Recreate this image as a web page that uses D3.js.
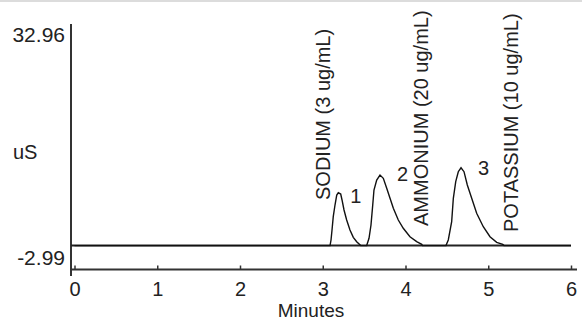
<!DOCTYPE html>
<html>
<head>
<meta charset="utf-8">
<script src="https://cdn.jsdelivr.net/npm/d3@7"></script>
<style>
  body { margin: 0; background: #fff; }
  svg { display: block; font-family: "Liberation Sans", Arial, sans-serif; }
</style>
</head>
<body>
<svg id="chart"></svg>
<script>
// chromatogram trace, minutes / uS
const traceTimes = [0, 3.088, 3.100, 3.112, 3.127, 3.148, 3.169, 3.188, 3.217, 3.233, 3.257, 3.289, 3.329, 3.369, 3.410, 3.459,
  3.531, 3.559, 3.583, 3.604, 3.619, 3.652, 3.692, 3.732, 3.773, 3.813, 3.853, 3.913, 3.973, 4.054, 4.135, 4.196, 4.205,
  4.489, 4.517, 4.558, 4.578, 4.607, 4.638, 4.671, 4.707, 4.747, 4.800, 4.860, 4.940, 5.021, 5.102, 5.175, 5.190, 6];
const traceValues = [-2.6, -2.6, -1.70, -0.09, 2.06, 3.94, 5.55, 5.92, 5.71, 4.75, 3.14, 1.52, -0.09, -1.27, -1.97, -2.6,
  -2.6, -1.43, 0.72, 3.94, 6.36, 7.97, 8.78, 8.25, 6.63, 5.02, 3.41, 1.52, 0.19, -1.17, -1.97, -2.39, -2.6,
  -2.6, -1.70, 1.25, 5.02, 7.70, 9.31, 9.95, 9.31, 7.17, 5.02, 2.60, 0.44, -1.17, -2.07, -2.39, -2.6, -2.6];
const baselineValue = -2.6;

const peakNumbers = ['1', '2', '3'];
const peakTimes = [3.188, 3.692, 4.671];
const peakHeights = [5.92, 8.78, 9.95];

const peakNames = ['SODIUM (3 ug/mL)', 'AMMONIUM (20 ug/mL)', 'POTASSIUM (10 ug/mL)'];
const nameTimes = [3.088, 4.272, 5.36];
const nameValues = [4.75, 0.56, -0.41];

const xTicks = [0, 1, 2, 3, 4, 5, 6];
const yTicks = [-2.99, 32.96];
const xTitle = 'Minutes';
const yTitle = 'uS';

const width = 582, height = 331;
const svg = d3.select('#chart').attr('width', width).attr('height', height);

const x = d3.scaleLinear().domain([0, 6]).range([74.5, 571]);
const y = d3.scaleLinear().domain([-2.99, 32.96]).range([248, 25]);

// light frame edge at top
svg.append('rect').attr('x', 0).attr('y', 0).attr('width', width).attr('height', 2).attr('fill', '#dcdcdc');

// axes
const axisX = 71, axisY = 269.5;
svg.append('line')
   .attr('x1', axisX).attr('x2', axisX).attr('y1', 24).attr('y2', 276)
   .attr('stroke', '#333').attr('stroke-width', 2);
svg.append('line')
   .attr('x1', axisX).attr('x2', 577).attr('y1', axisY).attr('y2', axisY)
   .attr('stroke', '#333').attr('stroke-width', 2);

const gx = svg.append('g')
   .attr('transform', `translate(0, ${axisY})`)
   .call(d3.axisBottom(x).tickValues(xTicks).tickFormat(d3.format('d')).tickSize(-4).tickSizeOuter(0).tickPadding(12));
gx.select('.domain').remove();
gx.selectAll('line').attr('stroke', '#333').attr('stroke-width', 1.5);
gx.selectAll('text').attr('fill', '#222').style('font-size', '20px');

const gy = svg.append('g')
   .attr('transform', `translate(${axisX}, 0)`)
   .call(d3.axisLeft(y).tickValues(yTicks).tickFormat(d => d.toFixed(2)).tickSize(0).tickPadding(6));
gy.select('.domain').remove();
gy.selectAll('text').attr('fill', '#222').attr('dy', '16px').style('font-size', '21px');

svg.append('text')
   .attr('x', 13).attr('y', 159)
   .attr('fill', '#222').style('font-size', '20px')
   .text(yTitle);

svg.append('text')
   .attr('x', 311).attr('y', 317)
   .attr('text-anchor', 'middle')
   .attr('fill', '#222').style('font-size', '19px')
   .text(xTitle);

// baseline across the run
svg.append('line')
   .attr('x1', axisX).attr('x2', x(6)).attr('y1', y(baselineValue)).attr('y2', y(baselineValue))
   .attr('stroke', '#222').attr('stroke-width', 2);

const trace = traceTimes.map((t, i) => [t, traceValues[i]]);
svg.append('path')
   .datum(trace)
   .attr('d', d3.line().x(d => x(d[0])).y(d => y(d[1])))
   .attr('fill', 'none')
   .attr('stroke', '#111')
   .attr('stroke-width', 1.4);

// peak numbers
const numOffsets = [[12, 10], [17, 6], [17, 7]];
svg.selectAll('.peak-num')
   .data(peakNumbers)
   .enter()
   .append('text')
   .attr('class', 'peak-num')
   .attr('x', (d, i) => x(peakTimes[i]) + numOffsets[i][0])
   .attr('y', (d, i) => y(peakHeights[i]) + numOffsets[i][1])
   .attr('fill', '#222').style('font-size', '20px')
   .text(d => d);

// compound names, rotated
svg.selectAll('.peak-name')
   .data(peakNames)
   .enter()
   .append('text')
   .attr('class', 'peak-name')
   .attr('transform', (d, i) => `translate(${x(nameTimes[i])}, ${y(nameValues[i])}) rotate(-90)`)
   .attr('fill', '#222').style('font-size', '20px')
   .text(d => d);
</script>
</body>
</html>
